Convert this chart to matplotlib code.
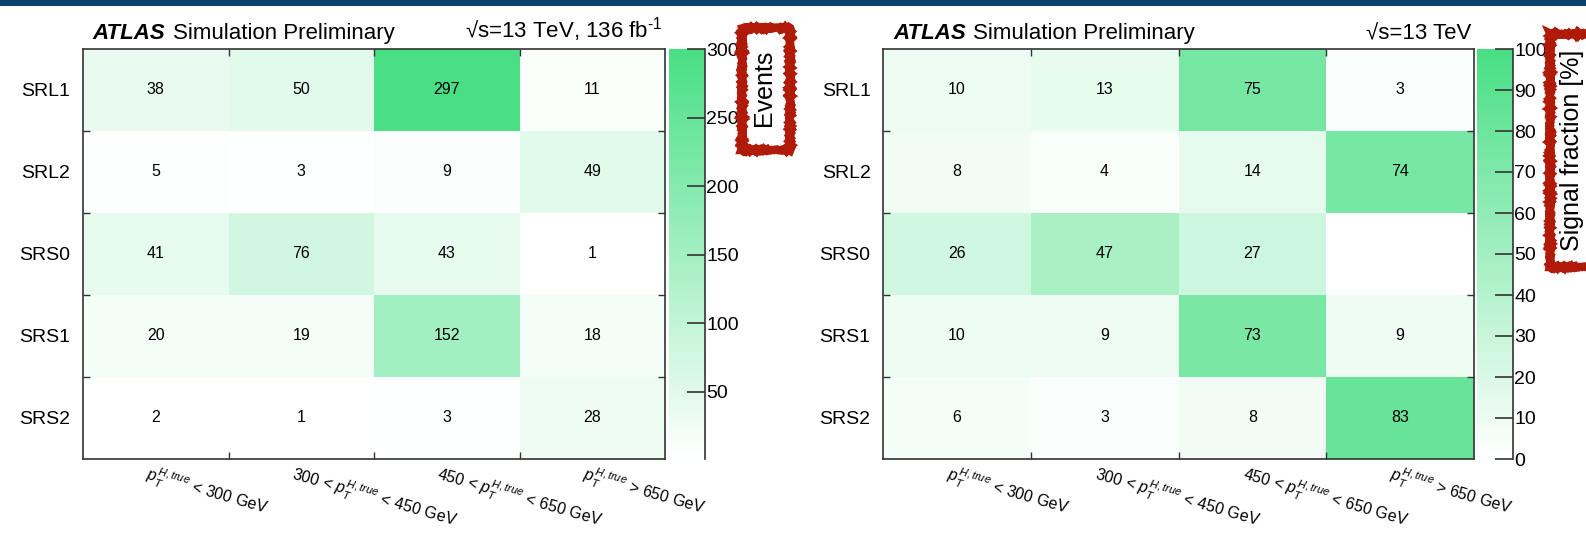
import numpy as np
import matplotlib
matplotlib.use('Agg')
import matplotlib.pyplot as plt
from matplotlib.colors import LinearSegmentedColormap
from matplotlib.patches import Rectangle

plt.rcParams['font.family'] = ['Liberation Sans', 'DejaVu Sans']
plt.rcParams['mathtext.fontset'] = 'custom'
plt.rcParams['mathtext.rm'] = 'Liberation Sans'
plt.rcParams['mathtext.it'] = 'Liberation Sans:italic'

# regions (rows) and truth pT bins (columns)
regions = ['SRL1', 'SRL2', 'SRS0', 'SRS1', 'SRS2']
pt_labels = [r'$p_{T}^{H,true}$ < 300 GeV',
             r'300 < $p_{T}^{H,true}$ < 450 GeV',
             r'450 < $p_{T}^{H,true}$ < 650 GeV',
             r'$p_{T}^{H,true}$ > 650 GeV']

# expected signal events per region and pT bin
events = np.array([
    [38, 50, 297, 11],
    [5, 3, 9, 49],
    [41, 76, 43, 1],
    [20, 19, 152, 18],
    [2, 1, 3, 28],
])

# signal fraction [%] per region
fraction = np.array([
    [10, 13, 75, 3],
    [8, 4, 14, 74],
    [26, 47, 27, 0],
    [10, 9, 73, 9],
    [6, 3, 8, 83],
])

W, H = 1586, 534
fig = plt.figure(figsize=(W / 100, H / 100), dpi=100)

def px_axes(x0, y0, x1, y1):
    # axes from pixel box (top-left origin)
    return fig.add_axes([x0 / W, 1 - y1 / H, (x1 - x0) / W, (y1 - y0) / H])

cmap = LinearSegmentedColormap.from_list('atlas_green', ['#ffffff', '#48df84'])
frame_col = '#333333'

def draw_panel(ax, cax, data, vmin, vmax, cticks, lumi_text):
    nrow, ncol = data.shape
    mesh = ax.pcolormesh(np.arange(ncol + 1), np.arange(nrow + 1), data,
                         cmap=cmap, vmin=vmin, vmax=vmax)
    ax.set_xlim(0, ncol)
    ax.set_ylim(nrow, 0)
    for r in range(nrow):
        for c in range(ncol):
            if data[r, c] > 0:
                ax.text(c + 0.5, r + 0.5, str(data[r, c]), ha='center', va='center',
                        fontsize=11.5, color='black')

    ax.set_yticks(np.arange(nrow) + 0.5)
    ax.set_yticklabels(regions, fontsize=14)
    ax.set_xticks([])
    ax.set_xticks(np.arange(1, ncol), minor=True)
    ax.set_yticks(np.arange(1, nrow), minor=True)
    ax.tick_params(axis='y', which='major', length=0, pad=9)
    ax.tick_params(which='minor', direction='in', length=5, width=1,
                   top=True, right=True, color=frame_col)
    for s in ax.spines.values():
        s.set_color(frame_col)
        s.set_linewidth(1.2)

    # rotated truth-bin labels under each column
    for c, lab in enumerate(pt_labels):
        ax.annotate(lab, xy=(c + 0.5, 0.0), xycoords=('data', 'axes fraction'),
                    xytext=(-6, -4), textcoords='offset pixels',
                    ha='left', va='top', rotation=-16, rotation_mode='anchor',
                    fontsize=11.5)

    # header
    t = ax.text(0.017, 1.012, 'ATLAS', transform=ax.transAxes, fontsize=16,
                fontweight='bold', fontstyle='italic', va='bottom')
    ax.annotate('Simulation Preliminary', xy=(1, 0), xycoords=t,
                xytext=(5, 0), textcoords='offset points', fontsize=16,
                va='bottom')
    ax.text(0.995, 1.012, lumi_text, transform=ax.transAxes, fontsize=16,
            ha='right', va='bottom')

    # colour scale
    cb = fig.colorbar(mesh, cax=cax)
    cb.outline.set_visible(False)
    cb.set_ticks(cticks)
    cax.tick_params(axis='y', direction='in', length=13, width=1.2,
                    labelsize=14, pad=1, color=frame_col)
    cax.plot([1, 1], [0, 1], transform=cax.transAxes, color=frame_col,
             lw=1.2, clip_on=False)
    return cb

ax1 = px_axes(83, 49, 665, 459)
cax1 = px_axes(669, 49, 705, 459)
draw_panel(ax1, cax1, events, 1, 300, [50, 100, 150, 200, 250, 300],
           r'√s=13 TeV, 136 fb$^{\text{-1}}$')

ax2 = px_axes(883, 49, 1474, 459)
cax2 = px_axes(1477, 49, 1513, 459)
draw_panel(ax2, cax2, fraction, 0, 100, np.arange(0, 101, 10), '√s=13 TeV')

# hand-marked boxes around the z-axis titles
def marked_label(x0, y0, x1, y1, text, xc, yc):
    box = Rectangle((x0 / W, 1 - y1 / H), (x1 - x0) / W, (y1 - y0) / H,
                    transform=fig.transFigure, facecolor='white',
                    edgecolor='#b01a08', lw=6, zorder=10, clip_on=False)
    box.set_sketch_params(scale=0.8, length=2, randomness=2)
    fig.patches.append(box)
    fig.text(xc / W, 1 - yc / H, text, rotation=90, ha='center', va='center',
             fontsize=18, zorder=11)

marked_label(742, 28, 790, 150, 'Events', 764, 88)
marked_label(1550, 34, 1600, 267, 'Signal fraction [%]', 1572, 150)

# banner strip along the top
fig.patches.append(Rectangle((0, 1 - 6 / H), 1, 6 / H, transform=fig.transFigure,
                             facecolor='#0c416f', edgecolor='none', zorder=12))

fig.savefig('out.png', dpi=100)
